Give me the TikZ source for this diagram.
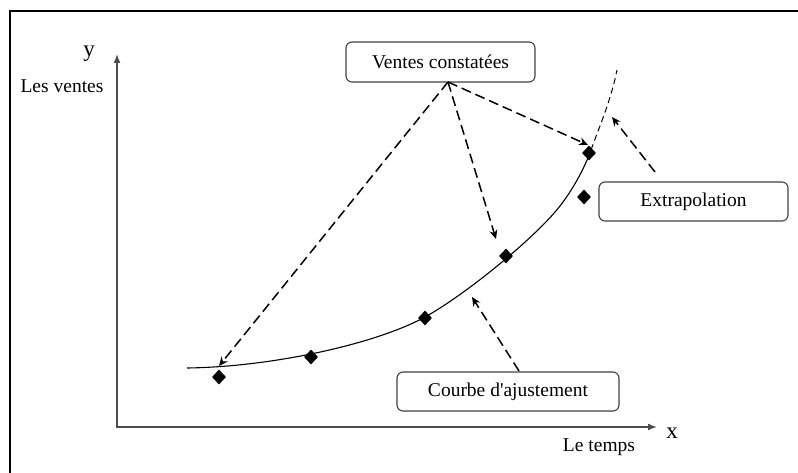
\documentclass[tikz,border=0pt]{standalone}
\usepackage{fontspec}
\setmainfont{Liberation Serif}
\usetikzlibrary{arrows.meta,shapes.geometric}
\begin{document}
\begin{tikzpicture}[x=1pt,y=-1pt,
  labelbox/.style={draw=black!75,line width=1.1pt,rounded corners=6pt,inner sep=0pt,
    font=\fontsize{19.5}{22}\selectfont},
  datum/.style={diamond,fill=black,inner sep=0pt,minimum width=14pt,minimum height=15pt},
  axis/.style={draw=black!70,line width=1.6pt,{Latex[length=9pt,width=7pt]}-{Latex[length=9pt,width=7pt]}},
  pointer/.style={line width=1.5pt,dash pattern=on 10pt off 5pt,-{Stealth[length=9pt,width=8pt]}},
  txt/.style={inner sep=0pt,font=\fontsize{19.5}{22}\selectfont},
  axlabel/.style={inner sep=0pt,font=\fontsize{23}{24}\selectfont}]
\useasboundingbox (0,0) rectangle (798,473);

% outer frame
\draw[line width=2pt] (9.5,473) -- (9.5,11) -- (798,11);

% axes
\coordinate (origin) at (117,427);
\coordinate (ytip) at (117,54);
\coordinate (xtip) at (657,427);
\draw[axis] (ytip) -- (origin) -- (xtip);
\node[axlabel,anchor=base] (ylab) at (89,57) {y};
\node[axlabel,anchor=base] (xlab) at (672,438) {x};
\node[txt,anchor=base] (ventes) at (62,93) {Les ventes};
\node[txt,anchor=base] (temps) at (599,451) {Le temps};

% fitted curve and its extrapolation
\coordinate (fitstart) at (187,368);
\coordinate (fitend) at (591,150);
\coordinate (extend) at (617,70);
\draw[line width=1.1pt] (fitstart)
  .. controls (270,367) and (375,344.5) .. (425,317)
  .. controls (465,295) and (535,238) .. (560,206)
  .. controls (572,190.6) and (584,169.5) .. (fitend);
\draw[line width=1pt,dash pattern=on 6pt off 4pt] (fitend) .. controls (600,125) and (611,100) .. (extend);

% observed data
\node[datum] (d1) at (219,377) {};
\node[datum] (d2) at (311,357) {};
\node[datum] (d3) at (425,318) {};
\node[datum] (d4) at (506,256) {};
\node[datum] (d5) at (584,197) {};
\node[datum] (d6) at (589,153) {};

% label boxes
\node[labelbox,minimum width=189pt,minimum height=40pt] (vc) at (440.5,62) {Ventes constatées};
\node[labelbox,minimum width=189pt,minimum height=39pt] (ex) at (693.5,201.5) {Extrapolation};
\node[labelbox,minimum width=222pt,minimum height=39pt] (ca) at (508,391.5) {Courbe d\textquotesingle ajustement};

% pointers
\coordinate (vcfoot) at (448,82);
\coordinate (p1) at (219,366);
\coordinate (p2) at (496,239);
\coordinate (p3) at (588,145);
\coordinate (exfoot) at (655,172);
\coordinate (p4) at (612,117);
\coordinate (cafoot) at (519,371);
\coordinate (p5) at (472,297);
\draw[pointer] (vcfoot) -- (p1);
\draw[pointer] (vcfoot) -- (p2);
\draw[pointer] (vcfoot) -- (p3);
\draw[pointer] (exfoot) -- (p4);
\draw[pointer] (cafoot) -- (p5);
\end{tikzpicture}
\end{document}
